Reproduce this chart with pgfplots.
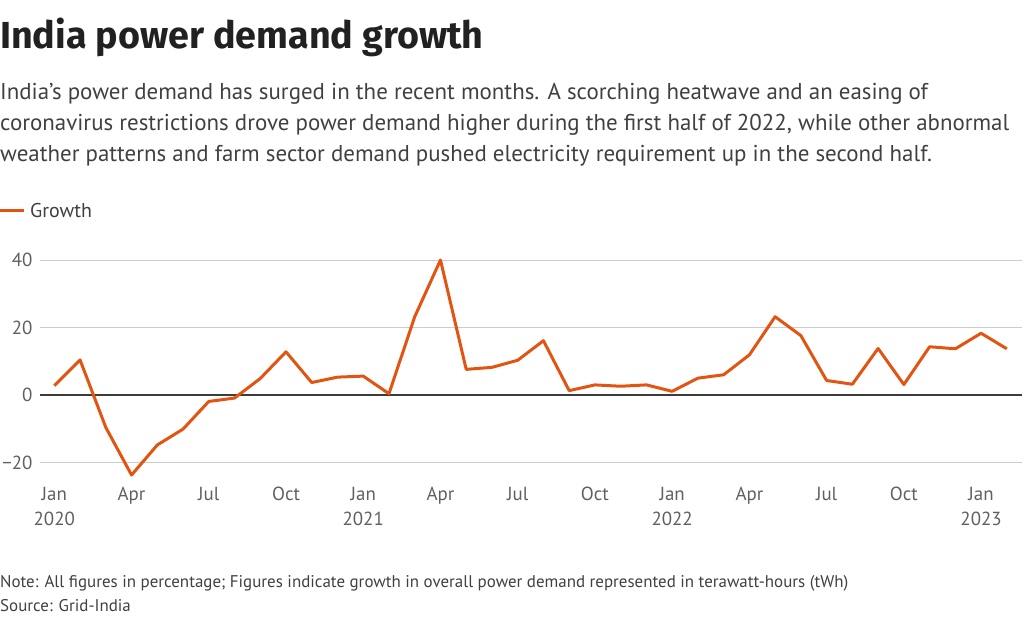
\documentclass[border=0pt]{standalone}
\usepackage{fontspec}
\setmainfont{PT Sans}
\newfontfamily\titlefont{Fira Sans}
\usepackage{pgfplots}
\pgfplotsset{compat=1.18}

\definecolor{growthorange}{RGB}{226,84,18}
\definecolor{titlegray}{RGB}{33,33,33}
\definecolor{textgray}{RGB}{64,64,64}
\definecolor{tickgray}{RGB}{96,96,96}
\definecolor{gridgray}{RGB}{204,204,204}
\definecolor{zerogray}{RGB}{60,60,60}

\begin{document}
\begin{tikzpicture}[x=1bp,y=1bp]
\path[use as bounding box] (0,0) rectangle (1024,-620);

% header
\node[anchor=base west, inner sep=0, text=titlegray, font=\titlefont\fontsize{37.8}{42}\selectfont\bfseries] at (0,-49) {India power demand growth};
\begin{scope}[every node/.style={anchor=base west, inner sep=0, text=textgray, font=\fontsize{23}{26}\selectfont}]
\node at (0,-100) {India's power demand has surged in the recent months. A scorching heatwave and an easing of};
\node at (0,-131) {coronavirus restrictions drove power demand higher during the first half of 2022, while other abnormal};
\node at (0,-162) {weather patterns and farm sector demand pushed electricity requirement up in the second half.};
\end{scope}

% legend
\draw[growthorange, line width=3bp] (0,-211) -- (24,-211);
\node[anchor=base west, inner sep=0, text=textgray, font=\fontsize{20}{24}\selectfont] at (30,-218) {Growth};

\begin{axis}[
  at={(40bp,-479.4bp)}, anchor=south west,
  scale only axis, width=982bp, height=219.4bp,
  xmin=-0.556, xmax=37.59, ymin=-25, ymax=40,
  clip=false,
  axis line style={draw=none},
  major tick length=0pt,
  xtick={0,3,...,36},
  xticklabels={Jan\\2020,Apr,Jul,Oct,Jan\\2021,Apr,Jul,Oct,Jan\\2022,Apr,Jul,Oct,Jan\\2023},
  xticklabel style={align=center, text=tickgray, font=\fontsize{19}{25}\selectfont, yshift=-4bp},
  ytick={-20,20,40},
  yticklabels={−20,20,40},
  extra y ticks={0},
  extra y tick labels={0},
  extra y tick style={grid style={zerogray, line width=1.4bp}},
  yticklabel style={text=tickgray, font=\fontsize{19}{23}\selectfont, xshift=-4bp},
  ymajorgrids,
  grid style={gridgray, line width=0.9bp},
]
\addplot[growthorange, line width=3bp, line join=round, mark=none] table {
0 2.8
1 10.4
2 -9.6
3 -23.7
4 -14.8
5 -10.1
6 -1.9
7 -0.9
8 4.9
9 12.8
10 3.7
11 5.3
12 5.6
13 0.4
14 23.2
15 40.0
16 7.6
17 8.2
18 10.3
19 16.1
20 1.3
21 3.0
22 2.6
23 3.0
24 1.1
25 5.0
26 6.0
27 11.9
28 23.2
29 17.6
30 4.3
31 3.2
32 13.8
33 3.1
34 14.3
35 13.7
36 18.3
37 13.7
};
\end{axis}

% footnotes
\begin{scope}[every node/.style={anchor=base west, inner sep=0, text=textgray, font=\fontsize{17}{20}\selectfont}]
\node at (0,-587) {Note: All figures in percentage; Figures indicate growth in overall power demand represented in terawatt-hours (tWh)};
\node at (0,-611) {Source: Grid-India};
\end{scope}
\end{tikzpicture}
\end{document}
